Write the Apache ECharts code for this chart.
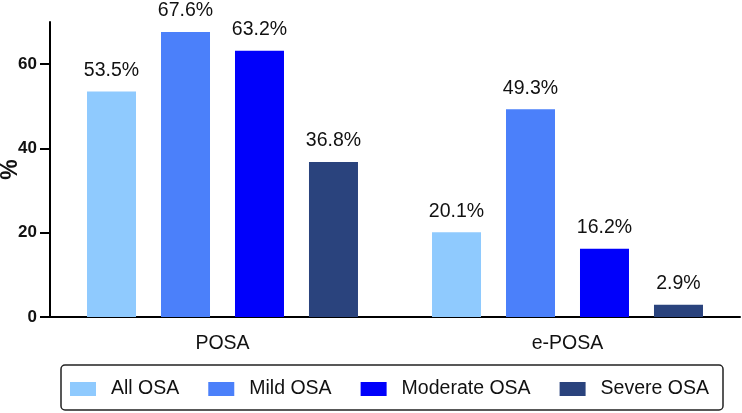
<!DOCTYPE html>
<html>
<head>
<meta charset="utf-8">
<script src="https://cdn.jsdelivr.net/npm/echarts@6/dist/echarts.min.js"></script>
<style>
  html, body { margin: 0; padding: 0; background: #fff; }
  #chart { width: 742px; height: 413px; }
</style>
</head>
<body>
<div id="chart"></div>
<script>
const groups = ['POSA', 'e-POSA']
const seriesNames = ['All OSA', 'Mild OSA', 'Moderate OSA', 'Severe OSA']
const allOsa = [53.5, 20.1]
const mildOsa = [67.6, 49.3]
const moderateOsa = [63.2, 16.2]
const severeOsa = [36.8, 2.9]
const yTicks = [0, 20, 40, 60]

const seriesValues = [allOsa, mildOsa, moderateOsa, severeOsa]
const colors = ['#8fcafe', '#4b80fa', '#0000fb', '#2a437d']
const font = 'Liberation Sans, Arial, Helvetica, sans-serif'

const chart = echarts.init(document.getElementById('chart'), null, { renderer: 'canvas' })
chart.setOption({
  backgroundColor: '#fff',
  animation: false,
  grid: { top: 22, left: 50, right: 2, bottom: 96, containLabel: false, outerBoundsMode: 'none' },
  xAxis: {
    type: 'category',
    data: groups,
    axisLine: { lineStyle: { color: '#000', width: 2 } },
    axisTick: { show: false },
    axisLabel: { color: '#111', fontSize: 19.5, fontFamily: font, margin: 17 },
  },
  yAxis: {
    type: 'value',
    min: 0, max: 70,
    name: '%',
    nameLocation: 'middle',
    nameRotate: 90,
    nameGap: 28,
    nameMoveOverlap: false,
    nameTextStyle: { color: '#111', fontSize: 23, fontWeight: 'bold', fontFamily: font },
    axisLine: { show: true, lineStyle: { color: '#000', width: 2 } },
    axisTick: { show: true, length: 10, lineStyle: { color: '#000', width: 2 }, customValues: yTicks },
    axisLabel: { color: '#111', fontSize: 17, fontWeight: 'bold', fontFamily: font, margin: 13, customValues: yTicks },
    splitLine: { show: false },
  },
  legend: {
    data: seriesNames,
    left: 70, top: 379,
    padding: 0,
    itemWidth: 26, itemHeight: 14, itemGap: 29,
    icon: 'rect',
    textStyle: { color: '#111', fontSize: 19.5, fontFamily: font, padding: [0, 0, 0, 10] },
  },
  graphic: [{
    type: 'rect',
    shape: { x: 61, y: 365, width: 662, height: 45, r: 4 },
    style: { fill: 'none', stroke: '#222', lineWidth: 1.5 },
    silent: true,
  }],
  series: seriesNames.map((name, i) => ({
    name,
    type: 'bar',
    data: seriesValues[i],
    barWidth: 49,
    barGap: '51%',
    itemStyle: { color: colors[i] },
    label: {
      show: true,
      position: 'top',
      distance: 11,
      formatter: '{c}%',
      color: '#111',
      fontSize: 19.5,
      fontFamily: font,
    },
  })),
})
</script>
</body>
</html>
